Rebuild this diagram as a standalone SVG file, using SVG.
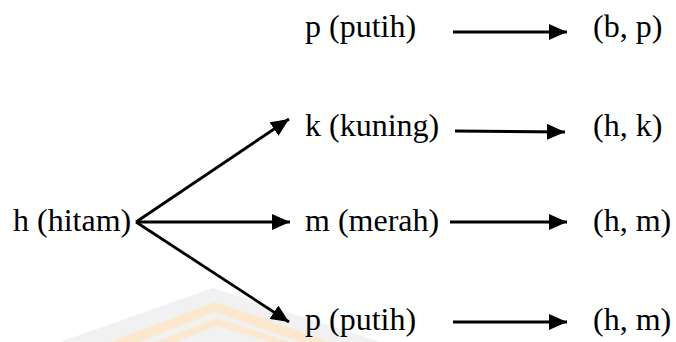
<svg xmlns="http://www.w3.org/2000/svg" width="676" height="342" viewBox="0 0 676 342">
<style>
  .c { stroke: #000; stroke-width: 2.8; fill: none; }
</style>
<defs>
  <marker id="ah" markerWidth="18" markerHeight="16" refX="18" refY="8" orient="auto" markerUnits="userSpaceOnUse">
    <path d="M0,0 L18,8 L0,16 Z" fill="#000"/>
  </marker>
</defs>
<rect width="676" height="342" fill="#fff"/>
<g id="watermark" opacity="0.5">
  <path d="M60,342 L213,288 L380,342 Z" fill="#e4e4e4"/>
  <path d="M110,342 L215,302 L330,342 L300,342 L215,312 L140,342 Z" fill="#fbd3a0"/>
  <path d="M155,342 L217,318 L290,342 L270,342 L217,326 L175,342 Z" fill="#fbd3a0"/>
</g>
<g id="connectors">
  <line class="c" x1="453" y1="32" x2="567" y2="32" marker-end="url(#ah)"/>
  <line class="c" x1="455" y1="131" x2="565" y2="132" marker-end="url(#ah)"/>
  <line class="c" x1="136" y1="222" x2="289" y2="119" marker-end="url(#ah)"/>
  <line class="c" x1="136" y1="222" x2="290" y2="222" marker-end="url(#ah)"/>
  <line class="c" x1="136" y1="222" x2="289" y2="322" marker-end="url(#ah)"/>
  <line class="c" x1="450" y1="222" x2="567" y2="222" marker-end="url(#ah)"/>
  <line class="c" x1="453" y1="322" x2="567" y2="322" marker-end="url(#ah)"/>
</g>
<g font-family="Liberation Serif, Times New Roman, DejaVu Serif, serif" font-size="32" fill="#000">
<g id="n-h"><text x="13" y="231">h (hitam)</text></g>
<g id="n-p1"><text x="305" y="37">p (putih)</text></g>
<g id="n-bp"><text x="593" y="37">(b, p)</text></g>
<g id="n-k"><text x="305" y="136">k (kuning)</text></g>
<g id="n-hk"><text x="593" y="136">(h, k)</text></g>
<g id="n-m"><text x="305" y="231">m (merah)</text></g>
<g id="n-hm1"><text x="593" y="231">(h, m)</text></g>
<g id="n-p2"><text x="305" y="330">p (putih)</text></g>
<g id="n-hm2"><text x="593" y="330">(h, m)</text></g>
</g>
</svg>
